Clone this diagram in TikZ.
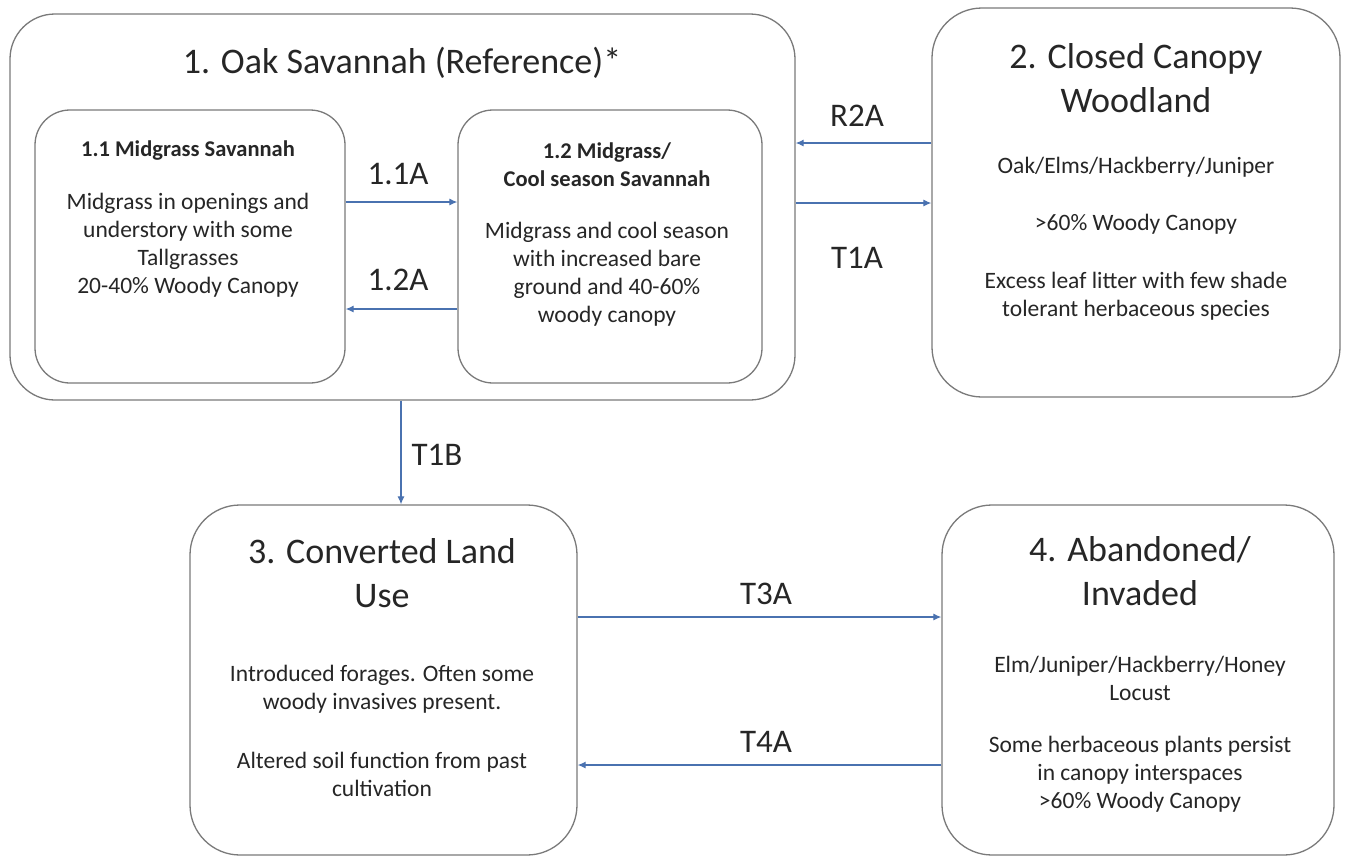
\documentclass[tikz,border=0pt]{standalone}
\usepackage{fontspec}
\setmainfont{Carlito}
\usetikzlibrary{arrows.meta}
\definecolor{boxline}{HTML}{7A7A7A}
\definecolor{arrblue}{HTML}{4A72B0}
\definecolor{txt}{HTML}{262626}
\tikzset{
  box/.style={draw=boxline, line width=1.3pt, rounded corners=#1, inner sep=0pt},
  box/.default=40pt,
  arr/.style={draw=arrblue, line width=1.2pt, -{Latex[length=8pt,width=7pt]}},
  big/.style={text=txt, font=\fontsize{36}{44}\selectfont, align=center, inner sep=0pt},
  lbl/.style={text=txt, font=\fontsize{33}{36}\selectfont, inner sep=0pt},
  body/.style={text=txt, font=\fontsize{23.5}{28}\selectfont, align=center, inner sep=0pt},
  sub/.style={text=txt, font=\bfseries\fontsize{22.5}{28}\selectfont, align=center, inner sep=0pt}
}
\begin{document}
\begin{tikzpicture}[x=1pt,y=-1pt]
\useasboundingbox[fill=white] (0,0) rectangle (1347,857);
% boxes
\node[box=45pt, minimum width=785pt, minimum height=386pt] (b1) at (402.5,207) {};
\node[box=35pt, minimum width=310pt, minimum height=273pt] (b11) at (190,246.5) {};
\node[box=35pt, minimum width=304pt, minimum height=273pt] (b12) at (610,246.5) {};
\node[box=50pt, minimum width=408pt, minimum height=389pt] (b2) at (1136,202.5) {};
\node[box=50pt, minimum width=387pt, minimum height=350pt] (b3) at (383.5,680) {};
\node[box=50pt, minimum width=392pt, minimum height=350pt] (b4) at (1138,680) {};
% texts
\node[big] (t1) at (402,63) {1. Oak Savannah (Reference)*};
\node[sub] (t11) at (188,151) {1.1 Midgrass Savannah};
\node[body] (d11) at (188,245) {Midgrass in openings and\\understory with some\\Tallgrasses\\20-40\% Woody Canopy};
\node[sub] (t12) at (607,165) {1.2 Midgrass/\\Cool season Savannah};
\node[body] (d12) at (607,274) {Midgrass and cool season\\with increased bare\\ground and 40-60\%\\woody canopy};
\node[big] (t2) at (1136,78) {2. Closed Canopy\\Woodland};
\node[body] (d2a) at (1136,167) {Oak/Elms/Hackberry/Juniper};
\node[body] (d2b) at (1136,224) {>60\% Woody  Canopy};
\node[body] (d2c) at (1136,296) {Excess leaf litter with few shade\\tolerant herbaceous  species};
\node[big] (t3) at (382,573) {3. Converted Land\\Use};
\node[body] (d3a) at (382,689) {Introduced  forages. Often some\\woody  invasives present.};
\node[body] (d3b) at (382,774) {Altered soil function  from past\\cultivation};
\node[big] (t4) at (1140,571) {4. Abandoned/\\Invaded};
\node[body] (d4a) at (1140,678.5) {Elm/Juniper/Hackberry/Honey\\Locust};
\node[body] (d4b) at (1140,774) {Some herbaceous  plants persist\\in canopy interspaces\\>60\% Woody  Canopy};
% arrows
\draw[arr] (b11.east |- 0,202) -- (b12.west |- 0,202);
\draw[arr] (b12.west |- 0,309) -- (b11.east |- 0,309);
\draw[arr] (b2.west |- 0,143) -- (b1.east |- 0,143);
\draw[arr] (b1.east |- 0,203) -- (b2.west |- 0,203);
\draw[arr] (b1.south -| 401,0) -- (b3.north -| 401,0);
\draw[arr] (b3.east |- 0,617) -- (b4.west |- 0,617);
\draw[arr] (b4.west |- 0,765) -- (b3.east |- 0,765);
% labels
\node[lbl] (l11) at (398,174) {1.1A};
\node[lbl] (l12) at (398,280) {1.2A};
\node[lbl] (lr2) at (857,116) {R2A};
\node[lbl] (lt1a) at (857,258) {T1A};
\node[lbl] (lt1b) at (437,455) {T1B};
\node[lbl] (lt3a) at (766,594) {T3A};
\node[lbl] (lt4a) at (766,742) {T4A};
\end{tikzpicture}
\end{document}
